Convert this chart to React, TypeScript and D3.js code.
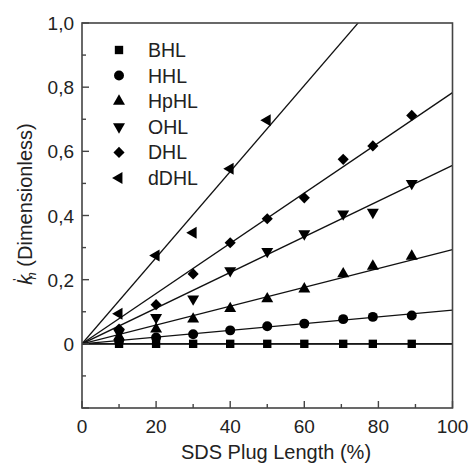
import React, { useRef, useEffect } from "react";
import * as d3 from "d3";

// plug lengths (%) shared by most series
const plugLength = [10, 20, 30, 40, 50, 60, 70.5, 78.5, 89];
const plugLengthD = [10, 20, 30, 40, 50];

const bhl = [0, 0, 0, 0, 0, 0, 0, 0, 0];
const hhl = [0.01, 0.02, 0.03, 0.042, 0.055, 0.063, 0.077, 0.084, 0.088];
const hphl = [0.022, 0.046, 0.077, 0.11, 0.14, 0.171, 0.218, 0.242, 0.273];
const ohl = [0.035, 0.082, 0.14, 0.228, 0.288, 0.343, 0.405, 0.41, 0.5];
const dhl = [0.046, 0.122, 0.218, 0.315, 0.39, 0.455, 0.575, 0.617, 0.712];
const ddhl = [0.094, 0.275, 0.346, 0.546, 0.697];

// fitted slopes of the lines through the origin
const fitSlopes = [0, 0.00105, 0.00294, 0.00556, 0.00783, 0.01342];

const seriesNames = ["BHL", "HHL", "HpHL", "OHL", "DHL", "dDHL"];
const xTicks = [0, 20, 40, 60, 80, 100];
const yTicks = [0, 0.2, 0.4, 0.6, 0.8, 1.0];
const yTickLabels = ["0", "0,2", "0,4", "0,6", "0,8", "1,0"];

const App = () => {
    const svgRef = useRef<SVGSVGElement>(null);

    const W = 472;
    const H = 463;
    const left = 82;
    const top = 23;
    const right = 452.5;
    const bottom = 408;
    const font = "'Liberation Sans', Arial, sans-serif";

    useEffect(() => {
        const svg = d3.select(svgRef.current);
        svg.selectAll("*").remove();

        const x = d3.scaleLinear().domain([0, 100]).range([left, right]);
        const y = d3.scaleLinear().domain([-0.2, 1.0]).range([bottom, top]);

        const series = [
            { xs: plugLength, ys: bhl },
            { xs: plugLength, ys: hhl },
            { xs: plugLength, ys: hphl },
            { xs: plugLength, ys: ohl },
            { xs: plugLength, ys: dhl },
            { xs: plugLengthD, ys: ddhl },
        ];

        // marker shapes: square, circle, up tri, down tri, diamond, left tri
        const shapes = [
            { type: d3.symbolSquare, size: 70, rot: 0 },
            { type: d3.symbolCircle, size: 78, rot: 0 },
            { type: d3.symbolTriangle, size: 62, rot: 0 },
            { type: d3.symbolTriangle, size: 62, rot: 180 },
            { type: d3.symbolSquare, size: 62, rot: 45 },
            { type: d3.symbolTriangle, size: 62, rot: -90 },
        ];

        svg.append("defs")
            .append("clipPath")
            .attr("id", "plotclip")
            .append("rect")
            .attr("x", left)
            .attr("y", top)
            .attr("width", right - left)
            .attr("height", bottom - top);

        // zero line
        svg.append("line")
            .attr("x1", left).attr("x2", right)
            .attr("y1", y(0)).attr("y2", y(0))
            .attr("stroke", "#333")
            .attr("stroke-width", 1.8);

        // fit lines
        const line = d3.line<number>()
            .x(d => x(d[0]))
            .y(d => y(d[1]));
        fitSlopes.forEach((s) => {
            svg.append("path")
                .attr("d", line([[0, 0], [100, s * 100]] as any))
                .attr("clip-path", "url(#plotclip)")
                .attr("fill", "none")
                .attr("stroke", "#111")
                .attr("stroke-width", 1.3);
        });

        // markers
        series.forEach((sr, i) => {
            const sh = shapes[i];
            const sym = d3.symbol().type(sh.type).size(sh.size);
            svg.append("g")
                .selectAll("path")
                .data(sr.xs.map((v, j) => [v, sr.ys[j]]))
                .enter()
                .append("path")
                .attr("d", sym as any)
                .attr("transform", d => `translate(${x(d[0])},${y(d[1])}) rotate(${sh.rot})`)
                .attr("fill", "#000");
        });

        // frame
        svg.append("rect")
            .attr("x", left).attr("y", top)
            .attr("width", right - left).attr("height", bottom - top)
            .attr("fill", "none")
            .attr("stroke", "#444")
            .attr("stroke-width", 1.6);

        // x ticks (inward)
        const xt = svg.append("g");
        d3.range(0, 101, 10).forEach(v => {
            const major = v % 20 === 0;
            xt.append("line")
                .attr("x1", x(v)).attr("x2", x(v))
                .attr("y1", bottom).attr("y2", bottom - (major ? 7 : 4))
                .attr("stroke", "#444").attr("stroke-width", 1.4);
        });
        xTicks.forEach(v => {
            xt.append("text")
                .attr("x", x(v)).attr("y", 433)
                .attr("text-anchor", "middle")
                .attr("font-family", font).attr("font-size", 19)
                .attr("fill", "#222")
                .text(v);
        });

        // y ticks (inward)
        const yt = svg.append("g");
        d3.range(-2, 11, 1).forEach(k => {
            const v = k / 10;
            const major = k % 2 === 0;
            yt.append("line")
                .attr("x1", left).attr("x2", left + (major ? 7 : 4))
                .attr("y1", y(v)).attr("y2", y(v))
                .attr("stroke", "#444").attr("stroke-width", 1.4);
        });
        yTicks.forEach((v, i) => {
            yt.append("text")
                .attr("x", 74).attr("y", y(v) + 7)
                .attr("text-anchor", "end")
                .attr("font-family", font).attr("font-size", 19)
                .attr("fill", "#222")
                .text(yTickLabels[i]);
        });

        // axis titles
        svg.append("text")
            .attr("x", 276).attr("y", 459)
            .attr("text-anchor", "middle")
            .attr("font-family", font).attr("font-size", 20)
            .attr("fill", "#222")
            .text("SDS Plug Length (%)");

        const yl = svg.append("text")
            .attr("transform", `translate(32,${204}) rotate(-90)`)
            .attr("text-anchor", "middle")
            .attr("font-family", font).attr("font-size", 20)
            .attr("fill", "#222");
        yl.append("tspan").attr("font-style", "italic").text("k");
        yl.append("tspan").attr("font-size", 12).attr("dx", -6).attr("dy", -10).text("'");
        yl.append("tspan").attr("font-style", "italic").attr("font-size", 13).attr("dx", -1).attr("dy", 14).text("n");
        yl.append("tspan").attr("dy", -4).text(" (Dimensionless)");

        // legend
        const lg = svg.append("g");
        seriesNames.forEach((name, i) => {
            const sh = shapes[i];
            const yy = 50 + i * 25.6;
            lg.append("path")
                .attr("d", d3.symbol().type(sh.type).size(sh.size)() as string)
                .attr("transform", `translate(119,${yy}) rotate(${sh.rot})`)
                .attr("fill", "#000");
            lg.append("text")
                .attr("x", 148).attr("y", yy + 7)
                .attr("font-family", font).attr("font-size", 19.5)
                .attr("fill", "#222")
                .text(name);
        });
    }, []);

    return (
        <svg ref={svgRef} width={W} height={H}
            style={{ position: "absolute", left: 0, top: 0, background: "#fff" }}></svg>
    );
};

export default App;
